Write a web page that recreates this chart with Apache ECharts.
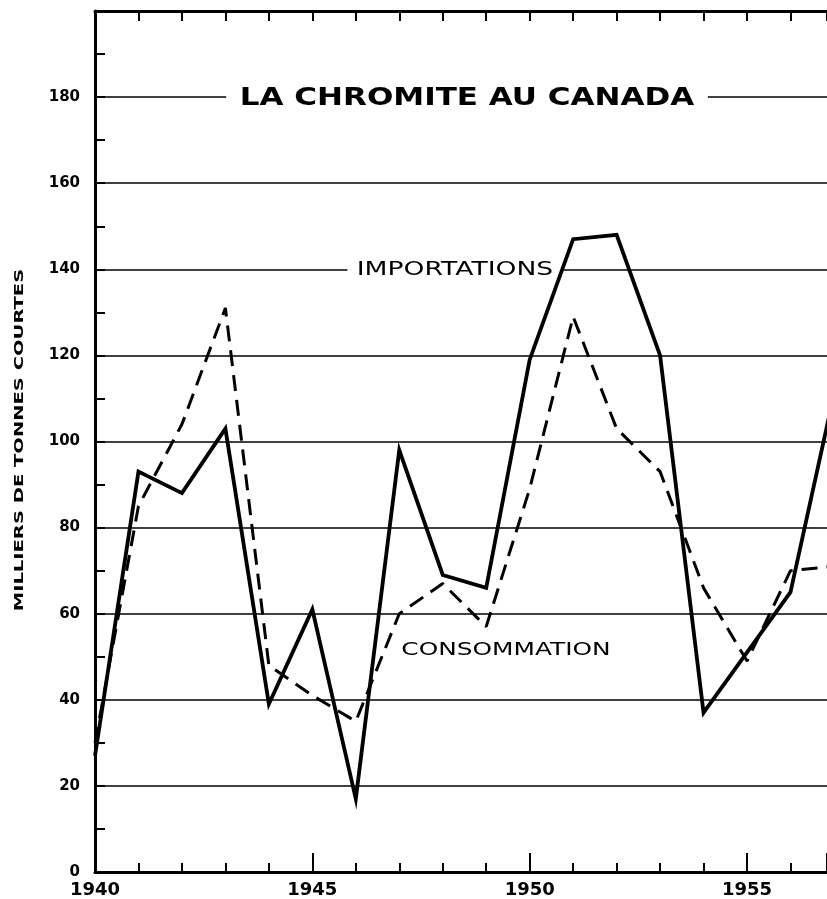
<!DOCTYPE html>
<html>
<head>
<meta charset="utf-8">
<script src="https://cdn.jsdelivr.net/npm/echarts@6/dist/echarts.min.js"></script>
<style>
html,body{margin:0;padding:0;background:#fff;}
#chart{width:827px;height:899px;}
</style>
</head>
<body>
<div id="chart"></div>
<script>
const years = [1940,1941,1942,1943,1944,1945,1946,1947,1948,1949,1950,1951,1952,1953,1954,1955,1956,1957];
const importations = [27, 93, 88, 103, 39, 61, 17, 98, 69, 66, 119, 147, 148, 120, 37, 51, 65, 111];
const consommation = [30, 85, 104, 131, 48, 41, 35, 60, 67, 57, 89, 129, 103, 93, 66, 49, 70, 71];
const yTicks = [0,20,40,60,80,100,120,140,160,180];
const xTickLabels = [1940,1945,1950,1955];

const titleText = 'LA CHROMITE AU CANADA';
const impLabel = 'IMPORTATIONS';
const consLabel = 'CONSOMMATION';
const yName = 'MILLIERS DE TONNES COURTES';

const chart = echarts.init(document.getElementById('chart'), null, {renderer:'canvas'});
const FONT = 'DejaVu Sans';
const X_MIN = 1940, X_MAX = 1956.84;

const option = {
  animation: false,
  backgroundColor: '#fff',
  grid: {left: 95, right: 0, top: 11, bottom: 27, containLabel: false},
  xAxis: [
    {type:'value', position:'bottom', min:X_MIN, max:X_MAX, interval:1,
     axisLine:{show:true, lineStyle:{color:'#000', width:3}},
     axisTick:{show:true, inside:true, length:9, lineStyle:{color:'#000', width:2}},
     axisLabel:{show:true, margin:9, color:'#000', fontFamily:FONT, fontWeight:'bold', fontSize:18,
       showMaxLabel:false,
       formatter: v => xTickLabels.includes(v) ? String(v) : ''},
     splitLine:{show:false}},
    {type:'value', position:'bottom', min:X_MIN, max:X_MAX, interval:5,
     axisLine:{show:false},
     axisTick:{show:true, inside:true, length:19, lineStyle:{color:'#000', width:2}},
     axisLabel:{show:false}, splitLine:{show:false}},
    {type:'value', position:'top', min:X_MIN, max:X_MAX, interval:1,
     axisLine:{show:true, lineStyle:{color:'#000', width:3}},
     axisTick:{show:true, inside:true, length:10, lineStyle:{color:'#000', width:2}},
     axisLabel:{show:false}, splitLine:{show:false}}
  ],
  yAxis: [
    {type:'value', position:'left', min:0, max:200, interval:20,
     axisLine:{show:true, lineStyle:{color:'#000', width:3}},
     axisTick:{show:false},
     axisLabel:{show:true, margin:15, color:'#000', fontFamily:FONT, fontWeight:'bold', fontSize:15,
       formatter: v => (yTicks.includes(v) ? String(v) : '')},
     splitLine:{show:true, lineStyle:{color:'#000', width:1.6}}},
    {type:'value', position:'left', min:0, max:200, interval:10,
     axisLine:{show:false},
     axisTick:{show:true, inside:true, length:10, lineStyle:{color:'#000', width:2}},
     axisLabel:{show:false}, splitLine:{show:false}}
  ],
  series: [
    {name: impLabel, type:'line', xAxisIndex:0, yAxisIndex:0, symbol:'none', clip:true,
     data: years.map((y,i)=>[y, importations[i]]),
     lineStyle:{color:'#000', width:3.8, type:'solid', join:'miter'}, z:5},
    {name: consLabel, type:'line', xAxisIndex:0, yAxisIndex:0, symbol:'none', clip:true,
     data: years.map((y,i)=>[y, consommation[i]]),
     lineStyle:{color:'#000', width:3, type:[16,9]}, z:4}
  ],
  graphic: {
    elements: [
      {type:'text', x:467, y:98, z:1, scaleX:1.24,
       style:{text:titleText, fill:'#000', font:'bold 25px "DejaVu Sans"', align:'center', verticalAlign:'middle',
         backgroundColor:'#fff', padding:[4,11]}},
      {type:'text', x:455, y:270, z:1, scaleX:1.33,
       style:{text:impLabel, fill:'#000', font:'20px "DejaVu Sans"', align:'center', verticalAlign:'middle',
         backgroundColor:'#fff', padding:[3,7]}},
      {type:'text', x:506, y:650, z:1, scaleX:1.38,
       style:{text:consLabel, fill:'#000', font:'18px "DejaVu Sans"', align:'center', verticalAlign:'middle'}},
      {type:'text', x:20, y:440, z:1, rotation:Math.PI/2, scaleX:1.5,
       style:{text:yName, fill:'#000', font:'bold 13px "DejaVu Sans"', align:'center', verticalAlign:'middle'}}
    ]
  }
};
chart.setOption(option);
</script>
</body>
</html>
